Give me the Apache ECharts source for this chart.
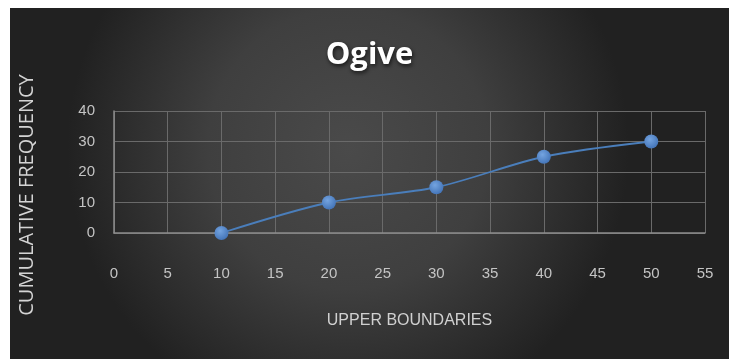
<!DOCTYPE html>
<html>
<head>
<meta charset="utf-8">
<script src="https://cdn.jsdelivr.net/npm/echarts@6/dist/echarts.min.js"></script>
<style>
  html, body { margin: 0; padding: 0; background: #ffffff; }
  #chart { position: absolute; left: 10px; top: 8px; width: 719px; height: 351px; }
</style>
</head>
<body>
<div id="chart"></div>
<script>
// Ogive: cumulative frequency against upper class boundaries
const upperBoundaries = [10, 20, 30, 40, 50];
const cumulativeFrequency = [0, 10, 15, 25, 30];
const xTicks = { min: 0, max: 55, interval: 5 };
const yTicks = { min: 0, max: 40, interval: 10 };

const points = upperBoundaries.map((b, i) => [b, cumulativeFrequency[i]]);

const labelFont = '"Liberation Sans", sans-serif';
const chart = echarts.init(document.getElementById('chart'), null, { renderer: 'canvas' });

chart.setOption({
  animation: false,
  backgroundColor: {
    type: 'radial', x: 0.47, y: 0.4, r: 0.8,
    colorStops: [
      { offset: 0, color: '#4a4a4a' },
      { offset: 0.5, color: '#3f3f3f' },
      { offset: 1, color: '#212121' }
    ]
  },
  title: {
    text: 'Ogive',
    left: 'center',
    top: 27,
    textStyle: {
      fontFamily: '"Open Sans", sans-serif',
      fontWeight: 'bold',
      fontSize: 31,
      color: '#ffffff',
      textShadowColor: 'rgba(0,0,0,0.7)',
      textShadowBlur: 4,
      textShadowOffsetX: 1,
      textShadowOffsetY: 2
    }
  },
  grid: { left: 104, right: 24, top: 103, bottom: 126, containLabel: false },
  xAxis: {
    type: 'value',
    min: xTicks.min, max: xTicks.max, interval: xTicks.interval,
    name: 'UPPER BOUNDARIES',
    nameLocation: 'middle',
    nameGap: 80,
    nameTextStyle: { color: '#d0d0d0', fontSize: 16, fontFamily: labelFont, verticalAlign: 'top' },
    axisLine: { show: true, lineStyle: { color: '#8c8c8c', width: 1.5 } },
    axisTick: { show: false },
    axisLabel: { color: '#c4c4c4', fontSize: 15, fontFamily: labelFont, margin: 33 },
    splitLine: { show: true, lineStyle: { color: '#6a6a6a', width: 1 } }
  },
  yAxis: {
    type: 'value',
    min: yTicks.min, max: yTicks.max, interval: yTicks.interval,
    axisLine: { show: true, lineStyle: { color: '#8c8c8c', width: 1.5 } },
    axisTick: { show: false },
    axisLabel: { color: '#c4c4c4', fontSize: 15, fontFamily: labelFont, margin: 19 },
    splitLine: { show: true, lineStyle: { color: '#6a6a6a', width: 1 } }
  },
  graphic: [{
    type: 'text',
    x: 17, y: 187,
    rotation: Math.PI / 2,
    style: {
      text: 'CUMULATIVE FREQUENCY',
      fill: '#d4d4d4',
      font: '20px "Open Sans", sans-serif',
      textAlign: 'center',
      textVerticalAlign: 'middle'
    }
  }],
  series: [{
    type: 'line',
    data: points,
    smooth: 0.3,
    symbol: 'circle',
    symbolSize: 14,
    lineStyle: { color: '#4a7ebb', width: 1.8 },
    itemStyle: {
      color: {
        type: 'radial', x: 0.4, y: 0.35, r: 0.7,
        colorStops: [
          { offset: 0, color: '#74a4e0' },
          { offset: 1, color: '#4172b6' }
        ]
      }
    }
  }]
});
</script>
</body>
</html>
